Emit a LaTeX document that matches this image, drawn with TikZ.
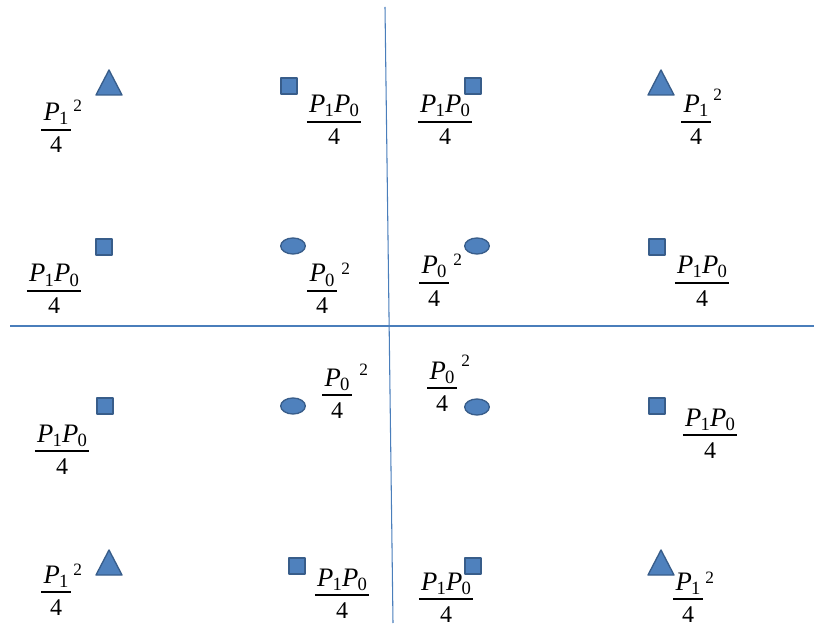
\documentclass[tikz,border=0pt]{standalone}
\usepackage{fontspec}
\setmainfont{Liberation Serif}
\usetikzlibrary{shapes.geometric}
\definecolor{mfill}{HTML}{4F81BD}
\definecolor{mdraw}{HTML}{385D8A}
\definecolor{axiscol}{HTML}{4A7EBB}
\newcommand{\Psb}[1]{\textit{P}\kern-0.5pt\raisebox{-3pt}{\fontsize{14}{14}\selectfont #1}}
\newcommand{\frc}[4]{%
  \node[numtxt] (#1n) at (#2,#3-9) {#4};
  \node[dentxt] (#1d) at (#2,#3+23) {4};
  \draw[fbar] ([shift={(-2,9)}]#1n.base west) -- ([shift={(2,9)}]#1n.base east);
}
\newcommand{\tri}[3]{%
  \draw[mk] (#2-13,#3+12.5) -- (#2+13,#3+12.5) -- (#2,#3-12.5) -- cycle;
  \coordinate (#1) at (#2,#3);
}
\tikzset{
  numtxt/.style={font=\fontsize{20}{20}\selectfont, inner sep=0pt, anchor=base},
  dentxt/.style={font=\fontsize{18}{18}\selectfont, inner sep=0pt, anchor=base},
  suptxt/.style={font=\fontsize{13}{13}\selectfont, inner sep=0pt, anchor=base west},
  fbar/.style={line width=0.8pt, black},
  mk/.style={draw=mdraw, fill=mfill, line width=1pt, line join=round},
  sq/.style={mk, rectangle, minimum size=12pt, inner sep=0pt},
  ell/.style={mk, ellipse, minimum width=18.5pt, minimum height=12pt, inner sep=0pt},
  axisline/.style={draw=axiscol, line width=0.8pt}
}
\begin{document}
\begin{tikzpicture}[x=0.75pt,y=-0.75pt]
\useasboundingbox (0,0) rectangle (814,627);
% axes
\coordinate (vt) at (385,7);
\coordinate (vb) at (393,623);
\coordinate (hl) at (10,326);
\coordinate (hr) at (814,326);
\draw[axisline] (vt) -- (vb);
\draw[axisline] (hl) -- (hr);
% markers
\tri{t1}{109}{82.5}
\tri{t2}{661}{82.5}
\tri{t3}{109}{562.5}
\tri{t4}{661}{562.5}
\node[sq] (s1) at (289,86) {};
\node[sq] (s2) at (473,86) {};
\node[sq] (s3) at (104,247) {};
\node[sq] (s4) at (657,247) {};
\node[sq] (s5) at (105,406) {};
\node[sq] (s6) at (657,406) {};
\node[sq] (s7) at (297,566) {};
\node[sq] (s8) at (473,566) {};
\node[ell] (e1) at (293,246) {};
\node[ell] (e2) at (477,246) {};
\node[ell] (e3) at (293,406) {};
\node[ell] (e4) at (477,407) {};
% labels row 1
\frc{a1}{56}{130}{\Psb{1}}
\node[suptxt] (a1s) at (73,112) {2};
\frc{a2}{334}{122}{\Psb{1}\Psb{0}}
\frc{a3}{445}{122}{\Psb{1}\Psb{0}}
\frc{a4}{696}{122}{\Psb{1}}
\node[suptxt] (a4s) at (713,101) {2};
% row 2
\frc{b1}{54}{291}{\Psb{1}\Psb{0}}
\frc{b2}{322}{291}{\Psb{0}}
\node[suptxt] (b2s) at (341,275) {2};
\frc{b3}{434}{283}{\Psb{0}}
\node[suptxt] (b3s) at (453,266) {2};
\frc{b4}{702}{283}{\Psb{1}\Psb{0}}
% row 3
\frc{c1}{62}{451}{\Psb{1}\Psb{0}}
\frc{c2}{337}{395}{\Psb{0}}
\node[suptxt] (c2s) at (359,375) {2};
\frc{c3}{442}{388}{\Psb{0}}
\node[suptxt] (c3s) at (461,366) {2};
\frc{c4}{710}{435}{\Psb{1}\Psb{0}}
% row 4
\frc{d1}{56}{592}{\Psb{1}}
\node[suptxt] (d1s) at (73,575) {2};
\frc{d2}{342}{595}{\Psb{1}\Psb{0}}
\frc{d3}{446}{599}{\Psb{1}\Psb{0}}
\frc{d4}{688}{599}{\Psb{1}}
\node[suptxt] (d4s) at (705,583) {2};
\end{tikzpicture}
\end{document}
